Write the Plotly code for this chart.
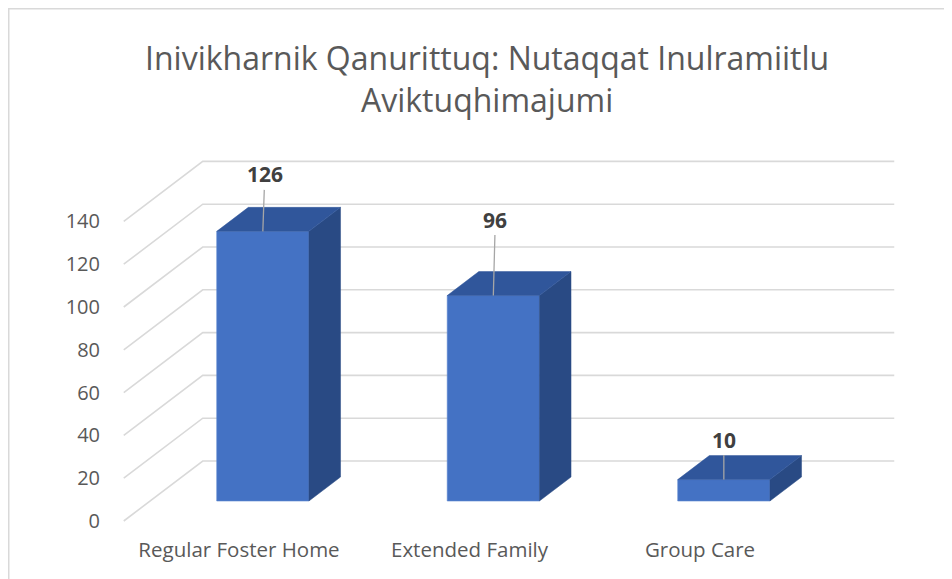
import plotly.graph_objects as go

# ---- data ----
categories = ["Regular Foster Home", "Extended Family", "Group Care"]
values = [126, 96, 10]
y_ticks = [0, 20, 40, 60, 80, 100, 120, 140]
title_lines = ["Inivikharnik Qanurittuq: Nutaqqat Inulramiitlu", "Aviktuqhimajumi"]

# ---- styling / projection (not data) ----
W, H = 952, 579
OFF = 8                    # page body offset of the figure in the screenshot
ML, MR, MT, MB = 93, 40, 130, 52
PX_PER_X = 230.5           # px per category step
PX_PER_V = 2.14            # px per value unit
X0_PX, V0_PX = 239 - OFF, 521 - OFF   # figure pixel of category 0 / value 0 on front plane
DX = 79 / PX_PER_X         # x shift per unit depth
DY = 60 / PX_PER_V         # value shift per unit depth
D_FRONT, D_BACK = 1 / 3, 1 / 3 + 0.4
BAR_W = 0.4
BAR_SHIFT = -2.5 / PX_PER_X
label_offsets = [(2, -57), (2, -76), (0, -40)]

plot_w = W - ML - MR
plot_h = H - MT - MB
x_range = [(ML - X0_PX) / PX_PER_X, (W - MR - X0_PX) / PX_PER_X]
y_range = [(V0_PX - (H - MB)) / PX_PER_V, (V0_PX - MT) / PX_PER_V]

GRID = "#d9d9d9"
FRONT = "#4472C4"
TOP = "#30569B"
SIDE = "#294A84"
TXT = "#595959"
FONT = "Open Sans"


def proj(x, v, d):
    return x + d * DX, v + d * DY


def paper_x(px):
    return (px - ML) / plot_w


def paper_y(py):
    return ((H - MB) - py) / plot_h


fig = go.Figure()

# back wall + side wall gridlines
gx, gy = [], []
x_lo, x_hi = -0.5, len(categories) - 0.5
for t in y_ticks:
    for (x, d) in [(x_lo, 0), (x_lo, 1), (x_hi, 1)]:
        px, py = proj(x, t, d)
        gx.append(px)
        gy.append(py)
    gx.append(None)
    gy.append(None)
fig.add_trace(go.Scatter(x=gx, y=gy, mode="lines", line=dict(color=GRID, width=1.6),
                         hoverinfo="skip", showlegend=False, xaxis="x", yaxis="y"))

# bars: front faces through bar trace on overlay axes
cx = list(range(len(categories)))
bx = [c + BAR_SHIFT for c in cx]
fig.add_trace(go.Bar(x=[b + D_FRONT * DX for b in bx], y=values,
                     base=[D_FRONT * DY] * len(values), width=BAR_W,
                     marker=dict(color=FRONT, line=dict(color="#5b86d0", width=0.6)),
                     hoverinfo="skip", showlegend=False, xaxis="x2", yaxis="y2"))

for b, v in zip(bx, values):
    # side face
    pts = [proj(b + BAR_W / 2, 0, D_FRONT), proj(b + BAR_W / 2, 0, D_BACK),
           proj(b + BAR_W / 2, v, D_BACK), proj(b + BAR_W / 2, v, D_FRONT)]
    pts.append(pts[0])
    fig.add_trace(go.Scatter(x=[p[0] for p in pts], y=[p[1] for p in pts], fill="toself",
                             fillcolor=SIDE, mode="lines", line=dict(color=SIDE, width=0.5),
                             hoverinfo="skip", showlegend=False, xaxis="x2", yaxis="y2"))
    # top face
    pts = [proj(b - BAR_W / 2, v, D_FRONT), proj(b - BAR_W / 2, v, D_BACK),
           proj(b + BAR_W / 2, v, D_BACK), proj(b + BAR_W / 2, v, D_FRONT)]
    pts.append(pts[0])
    fig.add_trace(go.Scatter(x=[p[0] for p in pts], y=[p[1] for p in pts], fill="toself",
                             fillcolor=TOP, mode="lines", line=dict(color=TOP, width=0.5),
                             hoverinfo="skip", showlegend=False, xaxis="x2", yaxis="y2"))

# data labels with leader lines
for (b, v), (ox, oy) in zip(zip(bx, values), label_offsets):
    px, py = proj(b, v, D_FRONT)
    fig.add_annotation(x=px, y=py, xref="x2", yref="y2", text=f"<b>{v}</b>",
                       showarrow=True, arrowhead=0, arrowwidth=1.3, arrowcolor="#a6a6a6",
                       ax=ox, ay=oy, font=dict(family=FONT, size=21, color="#404040"))

# title
fig.add_annotation(xref="paper", yref="paper", x=paper_x(486.5 - OFF), y=paper_y(78.5 - OFF),
                   xanchor="center", yanchor="middle", showarrow=False,
                   text="<br>".join(title_lines), align="center",
                   font=dict(family=FONT, size=32, color=TXT))

# chart border
fig.add_shape(type="rect", xref="paper", yref="paper",
              x0=paper_x(0.75), x1=paper_x(W + 10),
              y0=paper_y(H + 10), y1=paper_y(0.75),
              line=dict(color="#d9d9d9", width=1.5), layer="below")

axis_common = dict(showgrid=False, zeroline=False, showline=False, ticks="")
fig.update_layout(
    width=W, height=H,
    margin=dict(l=ML, r=MR, t=MT, b=MB, pad=0),
    paper_bgcolor="white", plot_bgcolor="white",
    xaxis=dict(range=x_range, tickvals=cx, ticktext=categories,
               tickfont=dict(family=FONT, size=20.5, color=TXT), **axis_common),
    yaxis=dict(range=y_range, tickvals=y_ticks, tickfont=dict(family=FONT, size=20, color=TXT),
               **axis_common),
    xaxis2=dict(range=x_range, overlaying="x", visible=False, **axis_common),
    yaxis2=dict(range=y_range, overlaying="y", visible=False, **axis_common),
    showlegend=False,
)

fig.write_html("out.html")
